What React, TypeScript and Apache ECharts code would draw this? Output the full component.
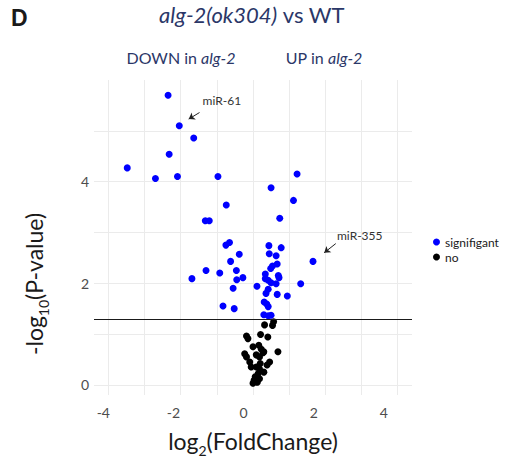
import React, { useEffect, useRef } from 'react';
import * as echarts from 'echarts';

// significant miRNAs: log2 fold change and -log10(p)
const sigLog2FC = [
  -2.35, -2.04, -1.64, -2.32, -3.48, -2.70, -2.09, -0.97,
  -0.74, -1.32, -1.21, -0.65, -0.75, -0.38, -0.62, -1.30, -0.92, -0.46, -1.69, -0.45, -0.28, -0.55, 0.11, -0.83, -0.52,
  1.22, 0.50, 1.12, 0.74, 0.44, 0.78, 0.45, 0.64, 1.66, 0.67, 0.54, 0.49, 0.34, 0.70, 0.72, 0.34, 0.42, 0.50, 0.64, 1.32,
  0.42, 0.36, 0.67, 0.95, 0.31, 0.38, 0.42, 0.30, 0.42, 0.50,
];
const sigNegLogP = [
  5.70, 5.10, 4.86, 4.54, 4.27, 4.06, 4.10, 4.10,
  3.54, 3.23, 3.23, 2.80, 2.75, 2.57, 2.43, 2.25, 2.20, 2.25, 2.09, 2.07, 2.11, 1.90, 1.94, 1.55, 1.50,
  4.15, 3.88, 3.63, 3.28, 2.74, 2.70, 2.58, 2.54, 2.43, 2.38, 2.34, 2.29, 2.18, 2.15, 2.11, 2.09, 2.06, 2.01, 1.99, 1.99,
  1.88, 1.80, 1.78, 1.75, 1.63, 1.59, 1.54, 1.38, 1.36, 1.37,
];
// non-significant miRNAs
const nsLog2FC = [
  0.32, 0.54, 0.57, -0.18, -0.14, 0.21, 0.41, 0.00, 0.16, 0.23, 0.30, 0.69, -0.23, -0.18, 0.09,
  0.18, -0.09, -0.05, 0.46, 0.39, 0.09, 0.18, 0.30, 0.14, 0.06, 0.03, 0.00, 0.09, 0.18, 0.28, 0.20, 0.12,
];
const nsNegLogP = [
  1.18, 1.17, 1.24, 0.96, 0.91, 0.99, 0.94, 0.75, 0.78, 0.70, 0.65, 0.65, 0.61, 0.55, 0.59,
  0.55, 0.45, 0.35, 0.45, 0.39, 0.35, 0.31, 0.25, 0.22, 0.16, 0.09, 0.03, 0.06, 0.12, 0.63, 0.42, 0.05,
];

const xTickLabels = [-4, -2, 0, 2, 4];
const yTickLabels = [0, 2, 4];
const pThreshold = -Math.log10(0.05);

// labelled miRNAs (data coordinates of label text and arrow)
const annotNames = ['miR-61', 'miR-355'];
const annotTextAt = [[-1.41, 5.59], [2.31, 2.94]];
const annotArrowFrom = [[-1.48, 5.36], [2.29, 2.78]];
const annotArrowTo = [[-1.78, 5.23], [1.97, 2.60]];

const NAVY = '#2b3768';
const FONT = 'Lato, "Noto Sans", sans-serif';
const GRID = '#ebebeb';

export default function App() {
  const ref = useRef<HTMLDivElement>(null);
  useEffect(() => {
    const chart = echarts.init(ref.current!, null, { renderer: 'svg' });
    const sigData = sigLog2FC.map((x, i) => [x, sigNegLogP[i]]);
    const nsData = nsLog2FC.map((x, i) => [x, nsNegLogP[i]]);
    const isTick = (v: number, list: number[]) => list.some((t) => Math.abs(t - v) < 1e-6);
    const navyRich = (size: number) => ({
      i: { fontStyle: 'italic', fontWeight: 'normal', fontSize: size, color: NAVY, fontFamily: FONT },
      n: { fontWeight: 'normal', fontSize: size, color: NAVY, fontFamily: FONT },
    });

    chart.setOption({
      animation: false,
      backgroundColor: '#ffffff',
      title: [
        {
          text: 'D', left: 11, top: 6, padding: 0,
          textStyle: { fontSize: 23, fontWeight: 'bold', color: '#1a1a1a', fontFamily: '"Liberation Sans", Arial, sans-serif' },
        },
        {
          text: '{i|alg-2(ok304)}{n| vs WT}', left: 252, top: 3, padding: 0, textAlign: 'center',
          textStyle: { fontWeight: 'normal', rich: navyRich(22) },
        },
        {
          text: '{n|DOWN in }{i|alg-2}', left: 181, top: 49, padding: 0, textAlign: 'center',
          textStyle: { fontWeight: 'normal', rich: navyRich(16) },
        },
        {
          text: '{n|UP in }{i|alg-2}', left: 324, top: 49, padding: 0, textAlign: 'center',
          textStyle: { fontWeight: 'normal', rich: navyRich(16) },
        },
      ],
      legend: {
        data: ['signifigant', 'no'],
        orient: 'vertical',
        left: 428,
        top: 231,
        itemWidth: 7,
        itemHeight: 7,
        itemGap: 3,
        icon: 'circle',
        textStyle: { fontSize: 12, color: '#1a1a1a', fontFamily: FONT },
      },
      grid: { left: 94, right: 97, top: 80, bottom: 68 },
      xAxis: [
        {
          type: 'value', min: -4.4, max: 4.4, splitNumber: 9, position: 'top',
          axisLine: { show: false }, axisTick: { show: false }, axisLabel: { show: false },
          splitLine: { show: true, showMinLine: false, showMaxLine: false, lineStyle: { color: GRID, width: 1 } },
        },
        {
          type: 'value', min: -4.265, max: 4.8, position: 'bottom',
          axisLine: { show: false }, axisTick: { show: false }, splitLine: { show: false },
          axisLabel: { customValues: xTickLabels, margin: 10, fontSize: 14, color: '#4d4d4d', fontFamily: FONT },
          name: '{n|log}{s|2}{n|(FoldChange)}',
          nameLocation: 'middle',
          nameGap: 29,
          nameTextStyle: {
            rich: {
              n: { fontSize: 23, color: '#1a1a1a', fontFamily: FONT },
              s: { fontSize: 14, color: '#1a1a1a', fontFamily: FONT, verticalAlign: 'bottom', lineHeight: 33 },
            },
          },
        },
      ],
      yAxis: {
        type: 'value', min: -0.2, max: 6, splitNumber: 6,
        axisLine: { show: false }, axisTick: { show: false },
        axisLabel: {
          margin: 5, fontSize: 14, color: '#4d4d4d', fontFamily: FONT,
          formatter: (v: number) => (isTick(v, yTickLabels) ? String(Math.round(v)) : ''),
        },
        splitLine: { show: true, showMinLine: false, showMaxLine: false, lineStyle: { color: GRID, width: 1 } },
      },
      graphic: [
        {
          type: 'text', x: 34, y: 284, rotation: Math.PI / 2,
          style: {
            text: '{n|-log}{s|10}{n|(P-value)}',
            textAlign: 'center', textVerticalAlign: 'middle',
            rich: {
              n: { fontSize: 23, fill: '#1a1a1a', fontFamily: FONT },
              s: { fontSize: 14, fill: '#1a1a1a', fontFamily: FONT, verticalAlign: 'bottom', lineHeight: 33 },
            },
          },
        },
      ],
      series: [
        {
          name: 'no', type: 'scatter', xAxisIndex: 0, yAxisIndex: 0,
          data: nsData, symbolSize: 7, itemStyle: { color: '#000000', opacity: 1 },
          markLine: {
            silent: true, symbol: ['none', 'none'], label: { show: false },
            lineStyle: { color: '#1a1a1a', width: 1.2, type: 'solid' },
            data: [
              { yAxis: pThreshold },
              ...annotArrowFrom.map((f, i) => [
                { coord: f, symbol: 'none', lineStyle: { color: '#222', width: 1, type: 'solid' } },
                { coord: annotArrowTo[i], symbol: 'arrow', symbolSize: 6 },
              ]),
            ],
          },
          markPoint: {
            silent: true, symbol: 'circle', symbolSize: 1, itemStyle: { color: 'transparent' },
            label: { show: true, position: 'right', distance: 0, formatter: '{b}', fontSize: 12, color: '#333', fontFamily: FONT },
            data: annotNames.map((n, i) => ({ name: n, coord: annotTextAt[i] })),
          },
        },
        {
          name: 'signifigant', type: 'scatter', xAxisIndex: 0, yAxisIndex: 0,
          data: sigData, symbolSize: 7, itemStyle: { color: '#0000ff', opacity: 1 },
        },
      ],
    });
    return () => chart.dispose();
  }, []);
  return <div ref={ref} style={{ position: 'fixed', left: 0, top: 0, width: 509, height: 463 }} />;
}
